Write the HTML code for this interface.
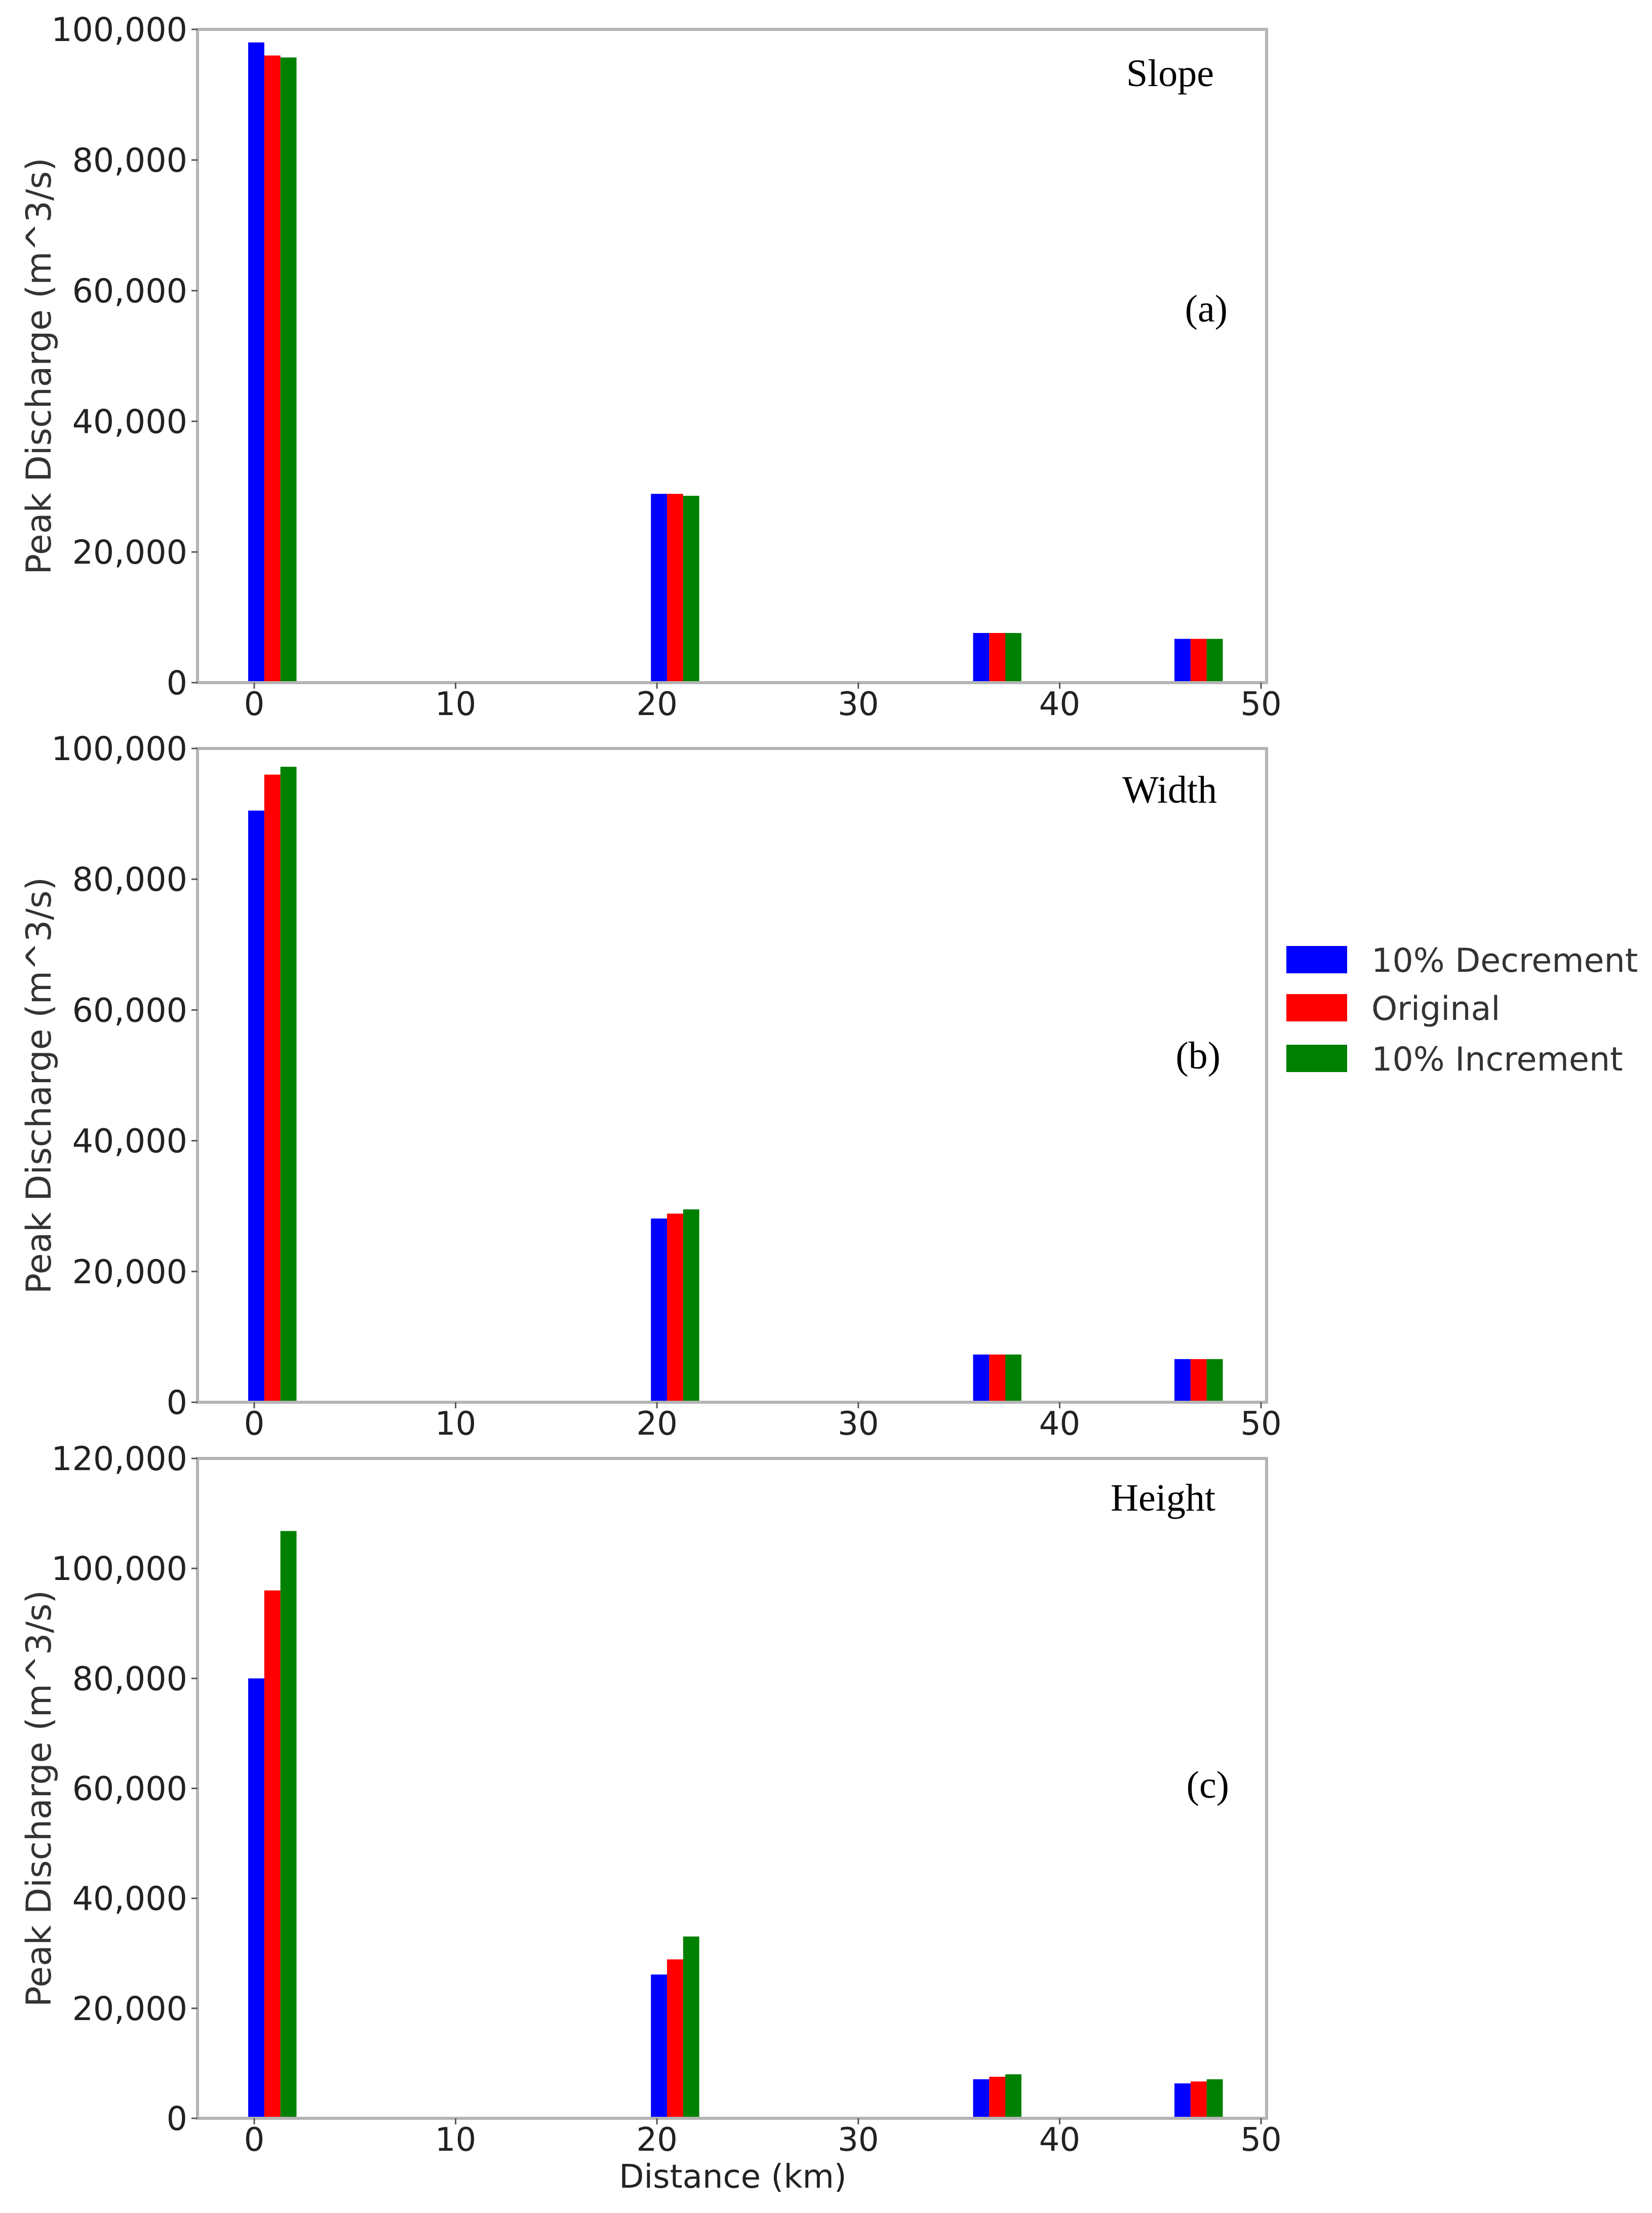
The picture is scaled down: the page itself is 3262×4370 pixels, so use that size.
<!DOCTYPE html>
<html><head><meta charset="utf-8"><style>
html,body{margin:0;padding:0;background:#fff}
svg{display:block}
text{font-family:"DejaVu Sans","Liberation Sans",sans-serif}
</style></head><body>
<svg id="chart" width="3262" height="4370" viewBox="0 0 3262 4370" xmlns="http://www.w3.org/2000/svg">
<rect width="3262" height="4370" fill="#fff"/>
</svg>
<script>
const distances = [0, 20, 36, 46];
const seriesNames = ["10% Decrement", "Original", "10% Increment"];
const slopeDecrement = [98000, 28900, 7600, 6700];
const slopeOriginal = [96000, 28900, 7600, 6700];
const slopeIncrement = [95700, 28600, 7600, 6700];
const widthDecrement = [90500, 28100, 7300, 6600];
const widthOriginal = [96000, 28850, 7300, 6600];
const widthIncrement = [97200, 29500, 7300, 6600];
const heightDecrement = [80000, 26150, 7100, 6350];
const heightOriginal = [96000, 28900, 7550, 6700];
const heightIncrement = [106800, 33060, 8000, 7100];
const xTicks = [0, 10, 20, 30, 40, 50];
const yTicksAB = [0, 20000, 40000, 60000, 80000, 100000];
const yTicksC = [0, 20000, 40000, 60000, 80000, 100000, 120000];
const panelTitles = ["Slope", "Width", "Height"];
const panelLetters = ["(a)", "(b)", "(c)"];

const colors = ["#0000ff", "#ff0000", "#008000"];
const svg = document.getElementById('chart');
const NS = "http://www.w3.org/2000/svg";
function mk(tag, attrs, parent) {
  const e = document.createElementNS(NS, tag);
  for (const k in attrs) e.setAttribute(k, attrs[k]);
  (parent || svg).appendChild(e);
  return e;
}
const panels = [
  {top: 58, bottom: 1348, ymax: 100000, ticks: yTicksAB, series: [slopeDecrement, slopeOriginal, slopeIncrement],
   titleX: 2397, titleY: 170, letterX: 2424, letterY: 635, xlabY: 1412, name: 'slope'},
  {top: 1478, bottom: 2769, ymax: 100000, ticks: yTicksAB, series: [widthDecrement, widthOriginal, widthIncrement],
   titleX: 2403, titleY: 1585, letterX: 2410, letterY: 2110, xlabY: 2833, name: 'width'},
  {top: 2880, bottom: 4183, ymax: 120000, ticks: yTicksC, series: [heightDecrement, heightOriginal, heightIncrement],
   titleX: 2400, titleY: 2983, letterX: 2427, letterY: 3550, xlabY: 4247, name: 'height'}
];
const left = 390, right = 2501;
const xs = v => 502 + v * (2490 - 502) / 50;
const barW = 0.8;
const fmt = v => v.toLocaleString('en-US');

panels.forEach((p, pi) => {
  const g = mk('g', {});
  
  
  const ys = v => p.bottom - v / p.ymax * (p.bottom - p.top);
  p.series.forEach((ser, si) => {
    ser.forEach((v, di) => {
      const x0 = xs(distances[di] - 0.3 + si * barW);
      const r = mk('rect', {x: x0, y: ys(v), width: xs(barW) - xs(0), height: p.bottom - ys(v), fill: colors[si]}, g);
      
      
    });
  });
  const fr = mk('rect', {x: left, y: p.top, width: right - left, height: p.bottom - p.top, fill: 'none', stroke: '#b4b4b4', 'stroke-width': 6}, g);
  
  
  p.ticks.forEach(t => {
    const y = ys(t);
    mk('line', {x1: left - 12, x2: left, y1: y, y2: y, stroke: '#555', 'stroke-width': 3}, g);
    const tx = mk('text', {x: left - 20, y: y + 23, 'text-anchor': 'end', 'font-size': 65, fill: '#222'}, g);
    tx.textContent = fmt(t);
    
    
  });
  xTicks.forEach(t => {
    const x = xs(t);
    mk('line', {x1: x, x2: x, y1: p.bottom, y2: p.bottom + 12, stroke: '#555', 'stroke-width': 3}, g);
    const tx = mk('text', {x: x, y: p.xlabY, 'text-anchor': 'middle', 'font-size': 64, fill: '#222'}, g);
    tx.textContent = t;
    
    
  });
  const cy = (p.top + p.bottom) / 2 + 20;
  const yt = mk('text', {x: 0, y: 0, transform: `translate(100,${cy}) rotate(-90)`, 'text-anchor': 'middle', 'font-size': 68, fill: '#333'}, g);
  yt.textContent = 'Peak Discharge (m^3/s)';
  
  
  const t1 = mk('text', {x: p.titleX, y: p.titleY, 'text-anchor': 'end', 'font-size': 76, fill: '#000', style: 'font-family:"Liberation Serif",serif'}, g);
  t1.textContent = panelTitles[pi];
  
  
  const t2 = mk('text', {x: p.letterX, y: p.letterY, 'text-anchor': 'end', 'font-size': 76, fill: '#000', style: 'font-family:"Liberation Serif",serif'}, g);
  t2.textContent = panelLetters[pi];
  
  
});

const xt = mk('text', {x: 1447, y: 4320, 'text-anchor': 'middle', 'font-size': 64, fill: '#222'});
xt.textContent = 'Distance (km)';



const lg = mk('g', {});


const legY = [1868, 1963, 2063];
seriesNames.forEach((n, i) => {
  const r = mk('rect', {x: 2540, y: legY[i], width: 120, height: 54, fill: colors[i]}, lg);
  
  
  const t = mk('text', {x: 2708, y: legY[i] + 51, 'font-size': 65, fill: '#333'}, lg);
  t.textContent = n;
  
  
});
</script>
</body></html>
